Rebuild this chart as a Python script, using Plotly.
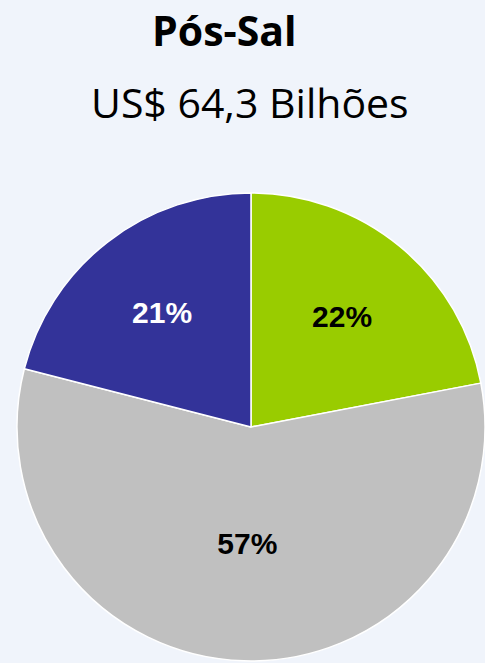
import plotly.graph_objects as go

# Slice data, clockwise from 12 o'clock
labels = ["Verde", "Cinza", "Azul"]
shares = [22, 57, 21]
slice_colors = ["#99CC00", "#C0C0C0", "#333399"]
text_colors = ["#000000", "#000000", "#FFFFFF"]

title = "Pós-Sal"
subtitle = "US$ 64,3 Bilhões"

W, H = 485, 663

fig = go.Figure(go.Pie(
    labels=labels,
    values=shares,
    sort=False,
    direction="clockwise",
    rotation=0,
    texttemplate="<b>%{percent:.0%}</b>",
    textposition="inside",
    insidetextorientation="horizontal",
    textfont=dict(family="Liberation Sans, Arial, sans-serif", size=30,
                  color=text_colors),
    marker=dict(colors=slice_colors, line=dict(color="#FFFFFF", width=1.5)),
    domain=dict(x=[0.035, 1.0], y=[0.0, 0.712]),
    showlegend=False,
    hoverinfo="skip",
))

# titles, positioned in pixels from the top
fig.add_annotation(
    text=f"<b>{title}</b>", x=224 / W, y=1 - 30 / H,
    xref="paper", yref="paper", yanchor="middle", showarrow=False,
    font=dict(family="Open Sans, sans-serif", size=41, color="#000000"),
)
fig.add_annotation(
    text=subtitle, x=250 / W, y=1 - 102 / H,
    xref="paper", yref="paper", yanchor="middle", showarrow=False,
    font=dict(family="Open Sans, sans-serif", size=41, color="#000000"),
)

fig.update_layout(
    width=W,
    height=H,
    margin=dict(l=0, r=0, t=0, b=0),
    paper_bgcolor="#F0F4FB",
    plot_bgcolor="#F0F4FB",
)

fig.write_html(
    "out.html",
    config={"displayModeBar": False},
    post_script="document.body.style.margin='0';",
)
